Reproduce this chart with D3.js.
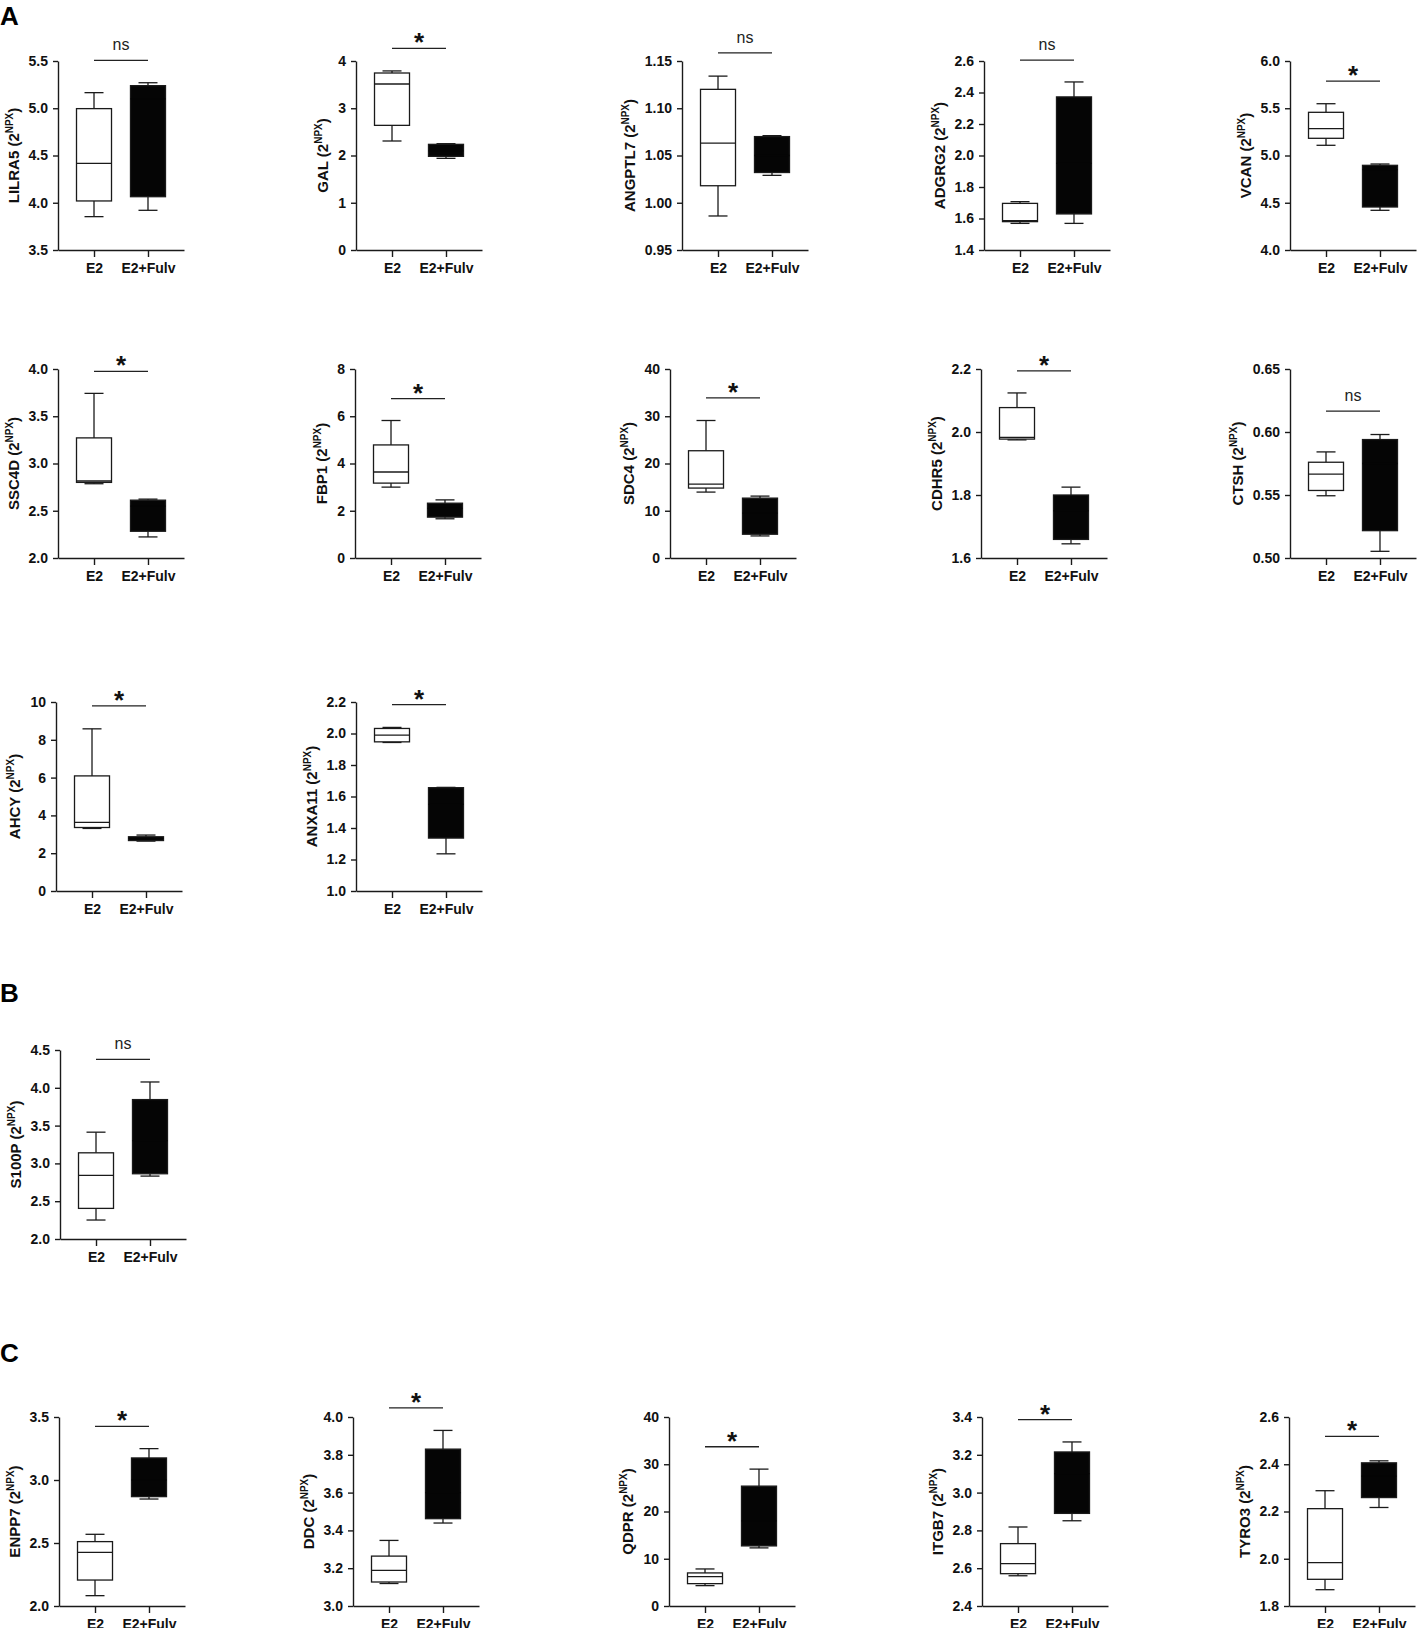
<!DOCTYPE html>
<html>
<head>
<meta charset="utf-8">
<script src="https://cdn.jsdelivr.net/npm/d3@7"></script>
<style>
  body { margin: 0; background: #fff; }
  svg { font-family: "Liberation Sans", Arial, sans-serif; }
  .axis path, .axis line { stroke: #1a1a1a; stroke-width: 1.4px; }
  .axis text { font-size: 14px; font-weight: bold; fill: #111; }
</style>
</head>
<body>
<div id="chart"></div>
<script>
// ---- data ----
const proteins = ["LILRA5", "GAL", "ANGPTL7", "ADGRG2", "VCAN",
                  "SSC4D", "FBP1", "SDC4", "CDHR5", "CTSH",
                  "AHCY", "ANXA11",
                  "S100P",
                  "ENPP7", "DDC", "QDPR", "ITGB7", "TYRO3"];
const groups = ["E2", "E2+Fulv"];

// [min, q1, median, q3, max]
const e2Stats = [
  [3.853, 4.019, 4.417, 4.996, 5.165],
  [2.307, 2.638, 3.513, 3.746, 3.79],
  [0.986, 1.018, 1.063, 1.12, 1.134],
  [1.569, 1.580, 1.586, 1.696, 1.707],
  [5.108, 5.182, 5.284, 5.457, 5.548],
  [2.786, 2.80, 2.815, 3.271, 3.742],
  [3.0, 3.17, 3.64, 4.786, 5.82],
  [13.95, 14.8, 15.65, 22.7, 29.1],
  [1.975, 1.9775, 1.983, 2.0775, 2.124],
  [0.5494, 0.5536, 0.5665, 0.576, 0.5842],
  [3.31, 3.36, 3.63, 6.09, 8.58],
  [1.943, 1.947, 1.99, 2.032, 2.0386],
  [2.251, 2.405, 2.841, 3.14, 3.413],
  [2.082, 2.206, 2.426, 2.511, 2.569],
  [3.119, 3.127, 3.189, 3.264, 3.347],
  [4.31, 4.73, 6.22, 7.0, 7.84],
  [2.56, 2.571, 2.624, 2.73, 2.818],
  [1.869, 1.913, 1.984, 2.212, 2.288]
];
const fulvStats = [
  [3.92, 4.064, 5.10, 5.239, 5.27],
  [1.94, 1.982, 2.10, 2.236, 2.25],
  [1.029, 1.032, 1.05, 1.07, 1.071],
  [1.569, 1.629, 1.95, 2.372, 2.467],
  [4.42, 4.455, 4.85, 4.896, 4.91],
  [2.223, 2.283, 2.55, 2.612, 2.623],
  [1.66, 1.73, 2.1, 2.32, 2.46],
  [4.67, 5.03, 9.5, 12.67, 13.1],
  [1.645, 1.659, 1.75, 1.80, 1.825],
  [0.5053, 0.5217, 0.575, 0.594, 0.598],
  [2.64, 2.67, 2.78, 2.87, 2.96],
  [1.236, 1.336, 1.55, 1.656, 1.658],
  [2.832, 2.863, 3.3, 3.844, 4.077],
  [2.849, 2.868, 3.0, 3.175, 3.249],
  [3.439, 3.462, 3.6, 3.83, 3.929],
  [12.3, 12.72, 18.0, 25.37, 28.97],
  [2.851, 2.89, 3.1, 3.215, 3.268],
  [2.217, 2.259, 2.35, 2.406, 2.4145]
];

const yTicks = [
  [3.5, 4.0, 4.5, 5.0, 5.5],
  [0, 1, 2, 3, 4],
  [0.95, 1.00, 1.05, 1.10, 1.15],
  [1.4, 1.6, 1.8, 2.0, 2.2, 2.4, 2.6],
  [4.0, 4.5, 5.0, 5.5, 6.0],
  [2.0, 2.5, 3.0, 3.5, 4.0],
  [0, 2, 4, 6, 8],
  [0, 10, 20, 30, 40],
  [1.6, 1.8, 2.0, 2.2],
  [0.50, 0.55, 0.60, 0.65],
  [0, 2, 4, 6, 8, 10],
  [1.0, 1.2, 1.4, 1.6, 1.8, 2.0, 2.2],
  [2.0, 2.5, 3.0, 3.5, 4.0, 4.5],
  [2.0, 2.5, 3.0, 3.5],
  [3.0, 3.2, 3.4, 3.6, 3.8, 4.0],
  [0, 10, 20, 30, 40],
  [2.4, 2.6, 2.8, 3.0, 3.2, 3.4],
  [1.8, 2.0, 2.2, 2.4, 2.6]
];

const sigLabels = ["ns", "*", "ns", "ns", "*",
                   "*", "*", "*", "*", "ns",
                   "*", "*",
                   "ns",
                   "*", "*", "*", "*", "*"];
const sigLevels = [5.507, 4.268, 1.1585, 2.606, 5.788,
                   3.975, 6.75, 33.9, 2.194, 0.6165,
                   9.79, 2.183,
                   4.377,
                   3.426, 4.048, 33.7, 3.386, 2.518];

const sectionLabels = ["A", "B", "C"];

// ---- layout ----
const width = 1417, height = 1628;
const plotW = 126, plotH = 189;
const rowTops = [61, 369, 702, 1050, 1417];
const rowCols = [
  [58, 356, 682, 984, 1290],
  [58, 355, 670, 981, 1290],
  [56, 356],
  [60],
  [59, 353, 669, 982, 1289]
];
const sectionBaselines = [25, 1002, 1362];

const svg = d3.select("#chart").append("svg")
    .attr("width", width)
    .attr("height", height);

sectionLabels.forEach(function(s, i) {
  svg.append("text")
    .attr("x", 0)
    .attr("y", sectionBaselines[i])
    .attr("font-size", "26px")
    .attr("font-weight", "bold")
    .attr("fill", "#000")
    .text(s);
});

// flatten the grid into panel positions
var positions = [];
rowCols.forEach(function(cols, r) {
  cols.forEach(function(cx) { positions.push([cx, rowTops[r]]); });
});

proteins.forEach(function(name, i) {
  var pos = positions[i];
  var ticks = yTicks[i];
  var g = svg.append("g")
      .attr("transform", "translate(" + pos[0] + "," + pos[1] + ")");

  var y = d3.scaleLinear().domain(d3.extent(ticks)).range([plotH, 0]);
  var x = d3.scalePoint().domain(groups).range([0, plotW]).padding(0.667);
  var fmt = d3.format("." + d3.precisionFixed(ticks[1] - ticks[0]) + "f");

  var yAxis = g.append("g").attr("class", "axis")
      .call(d3.axisLeft(y).tickValues(ticks).tickFormat(fmt)
            .tickSize(5).tickPadding(5).tickSizeOuter(0));

  g.append("g").attr("class", "axis")
      .attr("transform", "translate(0," + plotH + ")")
      .call(d3.axisBottom(x).tickSize(7).tickPadding(6).tickSizeOuter(0));

  // y title placed left of widest tick label
  var maxW = 0;
  yAxis.selectAll("text").each(function() {
    maxW = Math.max(maxW, this.getComputedTextLength());
  });
  var tx = -10 - maxW - 10;
  var title = g.append("text")
      .attr("transform", "translate(" + tx + "," + (plotH / 2) + ") rotate(-90)")
      .attr("text-anchor", "middle")
      .attr("font-size", "15px")
      .attr("font-weight", "bold")
      .attr("fill", "#111");
  title.append("tspan").text(name + " (2");
  title.append("tspan").attr("font-size", "10px").attr("dy", -6).text("NPX");
  title.append("tspan").attr("dy", 6).text(")");

  // boxes
  [e2Stats[i], fulvStats[i]].forEach(function(s, k) {
    var cx = x(groups[k]);
    var col = k === 0 ? "#fff" : "#050505";
    var bx = g.append("g").attr("stroke", "#1a1a1a").attr("stroke-width", 1.3);
    bx.append("line").attr("x1", cx).attr("x2", cx).attr("y1", y(s[0])).attr("y2", y(s[1]));
    bx.append("line").attr("x1", cx).attr("x2", cx).attr("y1", y(s[3])).attr("y2", y(s[4]));
    bx.append("line").attr("x1", cx - 9.5).attr("x2", cx + 9.5).attr("y1", y(s[0])).attr("y2", y(s[0]));
    bx.append("line").attr("x1", cx - 9.5).attr("x2", cx + 9.5).attr("y1", y(s[4])).attr("y2", y(s[4]));
    bx.append("rect")
      .attr("x", cx - 17.5).attr("width", 35)
      .attr("y", y(s[3])).attr("height", y(s[1]) - y(s[3]))
      .attr("fill", col);
    // median: black on black for the filled box, so it does not show
    bx.append("line")
      .attr("x1", cx - 17.5).attr("x2", cx + 17.5)
      .attr("y1", y(s[2])).attr("y2", y(s[2]))
      .attr("stroke", k === 0 ? "#1a1a1a" : col);
  });

  // significance bar
  var ly = y(sigLevels[i]);
  g.append("line")
    .attr("x1", x(groups[0])).attr("x2", x(groups[1]))
    .attr("y1", ly).attr("y2", ly)
    .attr("stroke", "#222").attr("stroke-width", 1.3);
  var mid = (x(groups[0]) + x(groups[1])) / 2;
  if (sigLabels[i] === "ns") {
    g.append("text").attr("x", mid).attr("y", ly - 10)
      .attr("text-anchor", "middle").attr("font-size", "16px").attr("fill", "#222")
      .text("ns");
  } else {
    g.append("text").attr("x", mid).attr("y", ly + 3)
      .attr("text-anchor", "middle").attr("font-size", "26px").attr("font-weight", "bold")
      .attr("fill", "#111")
      .text(sigLabels[i]);
  }
});
</script>
</body>
</html>
